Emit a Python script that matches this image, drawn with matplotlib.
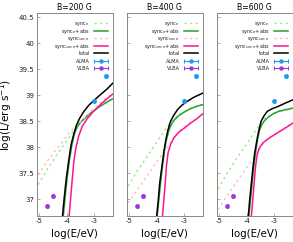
import matplotlib
matplotlib.use("Agg")
import matplotlib.pyplot as plt

titles = ["B=200 G", "B=400 G", "B=600 G"]

# ---- panel 1: B=200 G ----
p1_sync_e_x = [-5.02, -4.70, -4.34, -3.98, -3.72, -3.50, -3.20, -3.00, -2.55, -2.35]
p1_sync_e_y = [37.28, 37.57, 37.86, 38.14, 38.34, 38.49, 38.64, 38.72, 38.88, 38.94]
p1_abs_x = [-4.12, -4.05, -3.98, -3.90, -3.81, -3.72, -3.62, -3.50, -3.38, -3.20, -3.00, -2.79, -2.55, -2.35]
p1_abs_y = [36.67, 37.06, 37.41, 37.76, 38.04, 38.26, 38.39, 38.48, 38.54, 38.63, 38.71, 38.79, 38.87, 38.93]
p1_sec_x = [-5.02, -4.70, -4.34, -3.98, -3.74, -3.44, -3.26, -3.00, -2.73, -2.49, -2.35]
p1_sec_y = [37.47, 37.73, 37.98, 38.22, 38.37, 38.52, 38.62, 38.76, 38.88, 38.98, 39.03]
p1_secabs_x = [-3.91, -3.86, -3.80, -3.74, -3.67, -3.57, -3.44, -3.26, -3.00, -2.73, -2.49, -2.35]
p1_secabs_y = [36.67, 36.99, 37.37, 37.73, 37.98, 38.21, 38.40, 38.55, 38.71, 38.85, 38.96, 39.02]
p1_tot_x = [-4.15, -4.08, -4.01, -3.92, -3.84, -3.74, -3.65, -3.53, -3.38, -3.20, -3.00, -2.79, -2.55, -2.35]
p1_tot_y = [36.67, 37.06, 37.41, 37.76, 38.05, 38.26, 38.42, 38.56, 38.69, 38.81, 38.91, 39.01, 39.12, 39.23]

# ---- panel 2: B=400 G ----
p2_sync_e_x = [-5.02, -4.70, -4.34, -3.98, -3.68, -3.56, -3.48, -3.36, -3.20, -3.03, -2.79, -2.55, -2.35]
p2_sync_e_y = [37.25, 37.54, 37.82, 38.11, 38.35, 38.43, 38.49, 38.56, 38.63, 38.68, 38.75, 38.79, 38.82]
p2_abs_x = [-3.98, -3.92, -3.86, -3.79, -3.72, -3.65, -3.56, -3.48, -3.36, -3.20, -3.03, -2.79, -2.55, -2.35]
p2_abs_y = [36.67, 36.99, 37.31, 37.63, 37.92, 38.14, 38.32, 38.43, 38.53, 38.61, 38.67, 38.74, 38.79, 38.82]
p2_sec_x = [-5.02, -4.70, -4.34, -3.98, -3.62, -3.38, -3.20, -3.00, -2.79, -2.55, -2.35]
p2_sec_y = [36.93, 37.18, 37.45, 37.73, 38.00, 38.19, 38.31, 38.39, 38.47, 38.56, 38.65]
p2_secabs_x = [-3.79, -3.74, -3.69, -3.65, -3.59, -3.50, -3.38, -3.20, -3.00, -2.79, -2.55, -2.35]
p2_secabs_y = [36.67, 36.99, 37.31, 37.63, 37.89, 38.05, 38.18, 38.29, 38.37, 38.46, 38.55, 38.64]
p2_tot_x = [-4.00, -3.94, -3.89, -3.81, -3.74, -3.67, -3.60, -3.50, -3.38, -3.24, -3.09, -2.91, -2.67, -2.35]
p2_tot_y = [36.67, 36.99, 37.31, 37.63, 37.92, 38.14, 38.32, 38.50, 38.62, 38.73, 38.81, 38.88, 38.96, 39.04]

# ---- panel 3: B=600 G ----
p3_sync_e_x = [-5.02, -4.70, -4.34, -3.98, -3.68, -3.50, -3.46, -3.36, -3.24, -3.06, -2.85, -2.61, -2.35]
p3_sync_e_y = [37.20, 37.50, 37.80, 38.08, 38.32, 38.46, 38.50, 38.55, 38.59, 38.65, 38.70, 38.73, 38.76]
p3_abs_x = [-3.92, -3.86, -3.80, -3.74, -3.68, -3.61, -3.54, -3.46, -3.36, -3.24, -3.06, -2.85, -2.61, -2.35]
p3_abs_y = [36.67, 36.99, 37.31, 37.63, 37.89, 38.14, 38.32, 38.43, 38.51, 38.57, 38.64, 38.69, 38.72, 38.75]
p3_sec_x = [-5.02, -4.70, -4.34, -3.98, -3.62, -3.38, -3.26, -3.09, -2.85, -2.61, -2.35]
p3_sec_y = [36.80, 37.07, 37.34, 37.62, 37.89, 38.08, 38.16, 38.22, 38.30, 38.38, 38.47]
p3_secabs_x = [-3.83, -3.78, -3.73, -3.68, -3.62, -3.54, -3.42, -3.26, -3.09, -2.85, -2.61, -2.35]
p3_secabs_y = [36.67, 36.99, 37.31, 37.63, 37.86, 37.99, 38.08, 38.15, 38.21, 38.29, 38.37, 38.46]
p3_tot_x = [-3.94, -3.89, -3.83, -3.77, -3.71, -3.63, -3.56, -3.48, -3.38, -3.26, -3.09, -2.85, -2.61, -2.35]
p3_tot_y = [36.67, 36.99, 37.31, 37.63, 37.89, 38.14, 38.33, 38.50, 38.60, 38.69, 38.74, 38.79, 38.85, 38.91]

# ---- observations (same in every panel) ----
alma_x = [-3.00, -2.585]
alma_y = [38.89, 39.38]
alma_xerr = [0.02, 0.02]
vlba_x = [-4.70, -4.49]
vlba_y = [36.87, 37.05]
vlba_xerr = [0.02, 0.02]

xticks = [-5, -4, -3]
yticks = [37, 37.5, 38, 38.5, 39, 39.5, 40, 40.5]
ytick_labels = ["37", "37.5", "38", "38.5", "39", "39.5", "40", "40.5"]

legend_labels = [r"sync$_{\rm e}$", r"sync$_{\rm e}$+abs", r"sync$_{\rm sec\ e}$",
                 r"sync$_{\rm sec\ e}$+abs", "total", "ALMA", "VLBA"]

C_SYNC = "#90ee80"
C_ABS = "#2e9e2e"
C_SEC = "#ffb6c1"
C_SECABS = "#ff1493"
C_TOT = "black"
C_ALMA = "#1a9af0"
C_VLBA = "#9a3ad8"
DASH = (0, (1.6, 2.4))

panels = [
    (p1_sync_e_x, p1_sync_e_y, p1_abs_x, p1_abs_y, p1_sec_x, p1_sec_y, p1_secabs_x, p1_secabs_y, p1_tot_x, p1_tot_y),
    (p2_sync_e_x, p2_sync_e_y, p2_abs_x, p2_abs_y, p2_sec_x, p2_sec_y, p2_secabs_x, p2_secabs_y, p2_tot_x, p2_tot_y),
    (p3_sync_e_x, p3_sync_e_y, p3_abs_x, p3_abs_y, p3_sec_x, p3_sec_y, p3_secabs_x, p3_secabs_y, p3_tot_x, p3_tot_y),
]

fig = plt.figure(figsize=(2.93, 2.42), dpi=100)
AX_W_PX, AX_H_PX = 75.7, 202.4
lefts = [37.0 / 293, 127.0 / 293, 217.0 / 293]
bottom = 26.3 / 242
height = AX_H_PX / 242
width = AX_W_PX / 293


def draw_legend(ax):
    """gnuplot-style key: right-aligned text, sample to its right."""
    styles = [
        dict(color=C_SYNC, ls=DASH, lw=1.0),
        dict(color=C_ABS, ls="-", lw=1.1),
        dict(color=C_SEC, ls=DASH, lw=1.0),
        dict(color=C_SECABS, ls="-", lw=1.1),
        dict(color=C_TOT, ls="-", lw=1.1),
        dict(color=C_ALMA, ls="-", lw=0.8),
        dict(color=C_VLBA, ls="-", lw=0.8),
    ]
    x_txt = 53.0 / AX_W_PX
    x1, x2 = 56.5 / AX_W_PX, 71.0 / AX_W_PX
    row0, step = 10.0, 7.5
    for k, (lab, st) in enumerate(zip(legend_labels, styles)):
        yc = 1 - (row0 + k * step) / AX_H_PX
        yb = yc - 1.8 / AX_H_PX
        ax.text(x_txt, yb, lab, transform=ax.transAxes, ha="right", va="baseline",
                fontsize=3.6, color="#222222")
        ax.plot([x1, x2], [yc, yc], transform=ax.transAxes, clip_on=False, **st)
        if k >= 5:
            ax.plot([x1, x2], [yc, yc], transform=ax.transAxes, ls="none",
                    marker="|", ms=2.5, mew=0.7, color=st["color"], clip_on=False)
            ax.plot([(x1 + x2) / 2], [yc], transform=ax.transAxes, ls="none",
                    marker="o", ms=2.2, color=st["color"], clip_on=False)


for i in range(3):
    sx, sy, ax_, ay, cx, cy, dx, dy, tx, ty = panels[i]
    ax = fig.add_axes([lefts[i], bottom, width, height])
    ax.plot(sx, sy, color=C_SYNC, lw=1.0, ls=DASH)
    ax.plot(ax_, ay, color=C_ABS, lw=1.1)
    ax.plot(cx, cy, color=C_SEC, lw=1.0, ls=DASH)
    ax.plot(dx, dy, color=C_SECABS, lw=1.1)
    ax.plot(tx, ty, color=C_TOT, lw=1.1)
    ax.errorbar(alma_x, alma_y, xerr=alma_xerr, fmt="o", ms=2.4, color=C_ALMA,
                elinewidth=0.8, capsize=1.2)
    ax.errorbar(vlba_x, vlba_y, xerr=vlba_xerr, fmt="o", ms=2.4, color=C_VLBA,
                elinewidth=0.8, capsize=1.2)
    ax.set_xlim(-5.065, -2.345)
    ax.set_ylim(36.68, 40.58)
    ax.set_xticks(xticks)
    ax.set_xticklabels([str(t) for t in xticks])
    ax.set_yticks(yticks)
    if i == 0:
        ax.set_yticklabels(ytick_labels)
        ax.set_ylabel(r"log(L/erg s$^{-1}$)", fontsize=7.6, labelpad=3)
    else:
        ax.set_yticklabels([])
    ax.tick_params(direction="in", length=2.5, width=0.5, labelsize=5, pad=2,
                   colors="#222222")
    ax.tick_params(color="#888888")
    for s in ax.spines.values():
        s.set_color("#888888")
        s.set_linewidth(0.7)
    ax.set_title(titles[i], fontsize=5.6, pad=2.5)
    ax.set_xlabel("log(E/eV)", fontsize=7.4, labelpad=3.5)
    draw_legend(ax)

fig.savefig("out.png", dpi=100)
